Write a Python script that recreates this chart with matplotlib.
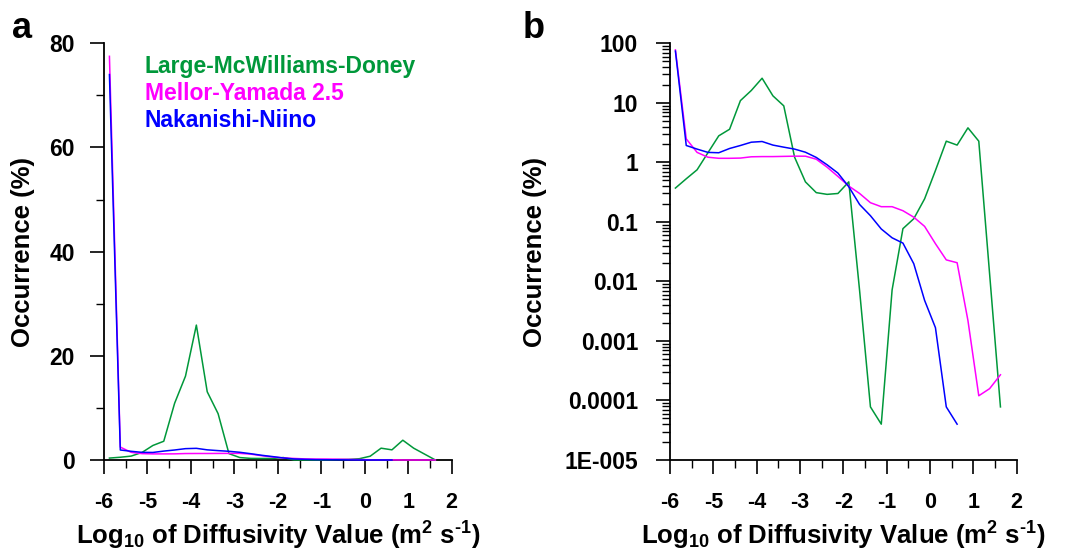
import numpy as np
import matplotlib
matplotlib.use("Agg")
import matplotlib.pyplot as plt
from matplotlib.ticker import MultipleLocator, FixedLocator, LogLocator, NullFormatter

plt.rcParams['font.family'] = ['Liberation Sans', 'DejaVu Sans']
plt.rcParams['font.weight'] = 'bold'
plt.rcParams['axes.unicode_minus'] = False
plt.rcParams['mathtext.fontset'] = 'custom'
plt.rcParams['mathtext.rm'] = 'Liberation Sans:bold'
plt.rcParams['mathtext.bf'] = 'Liberation Sans:bold'
plt.rcParams['mathtext.it'] = 'Liberation Sans:bold'

#%% Data (bin centres of log10 diffusivity, occurrence in %)
lmd_x = [-5.875, -5.625, -5.375, -5.125, -4.875, -4.625, -4.375, -4.125, -3.875,
         -3.625, -3.375, -3.125, -2.875, -2.625, -2.375, -2.125, -1.875, -1.625,
         -1.375, -1.125, -0.875, -0.625, -0.375, -0.125, 0.125, 0.375, 0.625,
         0.875, 1.125, 1.625]
lmd_y = [0.37, 0.53, 0.75, 1.45, 2.79, 3.6, 10.9, 16.1, 25.9,
         13.1, 8.9, 1.22, 0.47, 0.31, 0.29, 0.30, 0.47, 0.007,
         7.8e-5, 4e-5, 0.0072, 0.077, 0.113, 0.244, 0.73, 2.27, 1.95,
         3.8, 2.27, 7.8e-5]

my_x = [-5.875, -5.625, -5.375, -5.125, -4.875, -4.625, -4.375, -4.125, -3.875,
        -3.625, -3.375, -3.125, -2.875, -2.625, -2.375, -2.125, -1.875, -1.625,
        -1.375, -1.125, -0.875, -0.625, -0.375, -0.125, 0.125, 0.375, 0.625,
        0.875, 1.125, 1.375, 1.625]
my_y = [77.5, 2.48, 1.47, 1.22, 1.17, 1.17, 1.18, 1.24, 1.25,
        1.25, 1.26, 1.27, 1.27, 1.13, 0.83, 0.58, 0.40, 0.30,
        0.21, 0.18, 0.18, 0.154, 0.12, 0.084, 0.043, 0.023, 0.0206,
        0.0022, 1.2e-4, 1.58e-4, 2.7e-4]

nn_x = [-5.875, -5.625, -5.375, -5.125, -4.875, -4.625, -4.375, -4.125, -3.875,
        -3.625, -3.375, -3.125, -2.875, -2.625, -2.375, -2.125, -1.875, -1.625,
        -1.375, -1.125, -0.875, -0.625, -0.375, -0.125, 0.125, 0.375, 0.625]
nn_y = [74.0, 1.92, 1.67, 1.47, 1.45, 1.71, 1.92, 2.18, 2.24,
        1.95, 1.80, 1.67, 1.48, 1.21, 0.91, 0.66, 0.39, 0.196,
        0.127, 0.076, 0.054, 0.044, 0.0198, 0.0048, 0.00167, 7.8e-5, 4e-5]

series = [("Large-McWilliams-Doney", lmd_x, lmd_y, '#00983a'),
          ("Mellor-Yamada 2.5", my_x, my_y, '#ff00ff'),
          ("Nakanishi-Niino", nn_x, nn_y, '#0000ff')]

log_ticks = [1e-5, 1e-4, 1e-3, 1e-2, 1e-1, 1, 10, 100]
log_labels = ['1E-005', '0.0001', '0.001', '0.01', '0.1', '1', '10', '100']

#%% Figure
W, H = 1066, 557
fig = plt.figure(figsize=(W / 100, H / 100), dpi=100)
fig.patch.set_facecolor('white')

def px_axes(x0, x1, ytop, ybot):
    return fig.add_axes([x0 / W, 1 - ybot / H, (x1 - x0) / W, (ybot - ytop) / H])

ax_a = px_axes(104, 451.7, 43.3, 460)
ax_b = px_axes(670, 1016.7, 43.3, 460)

xlabel = 'Log$_{10}$ of Diffusivity Value (m$^{2}$ s$^{\u20101}$)'

for ax in (ax_a, ax_b):
    for name, x, y, c in series:
        ax.plot(x, y, color=c, lw=1.1, clip_on=False, zorder=3)
    ax.spines['top'].set_visible(False)
    ax.spines['right'].set_visible(False)
    for s in ('left', 'bottom'):
        ax.spines[s].set_linewidth(1.3)
    ax.set_xlim(-6, 2)
    ax.xaxis.set_major_locator(MultipleLocator(1))
    ax.xaxis.set_minor_locator(MultipleLocator(0.5))
    ax.tick_params(axis='both', which='major', direction='out', length=10, width=1.2,
                   labelsize=16.5)
    ax.tick_params(axis='both', which='minor', direction='out', length=5.5, width=1.0)
    ax.tick_params(axis='x', which='major', pad=13, labelsize=15.5)
    ax.set_xlabel(xlabel, fontsize=18.5, fontweight='bold')
    ax.xaxis.set_label_coords(0.5, -0.143)
    ax.xaxis.label.set_va('top')
    ax.set_ylabel('Occurrence (%)', fontsize=18.5, fontweight='bold')

# panel a: linear
ax_a.set_ylim(0, 80)
ax_a.yaxis.set_major_locator(MultipleLocator(20))
ax_a.yaxis.set_minor_locator(MultipleLocator(10))
ax_a.tick_params(axis='y', which='major', pad=11)
ax_a.yaxis.set_label_coords(-0.233, 0.5)
ax_a.yaxis.label.set_va('center')

# panel b: log
ax_b.set_yscale('log')
ax_b.set_ylim(1e-5, 100)
ax_b.yaxis.set_major_locator(FixedLocator(log_ticks))
ax_b.set_yticklabels(log_labels)
ax_b.yaxis.set_minor_locator(LogLocator(base=10, subs=np.arange(2, 10), numticks=20))
ax_b.yaxis.set_minor_formatter(NullFormatter())
ax_b.tick_params(axis='y', which='major', pad=13)
ax_b.yaxis.set_label_coords(-0.39, 0.5)
ax_b.yaxis.label.set_va('center')

# legend as coloured text
for i, (name, x, y, c) in enumerate(series):
    fig.text(145 / W, 1 - (73.3 + 27 * i) / H, name, color=c, fontsize=16.5,
             fontweight='bold', va='baseline', ha='left')

fig.text(12 / W, 1 - 38 / H, 'a', fontsize=26, fontweight='bold', va='baseline')
fig.text(523 / W, 1 - 38 / H, 'b', fontsize=26, fontweight='bold', va='baseline')

fig.savefig('out.png', dpi=100)
